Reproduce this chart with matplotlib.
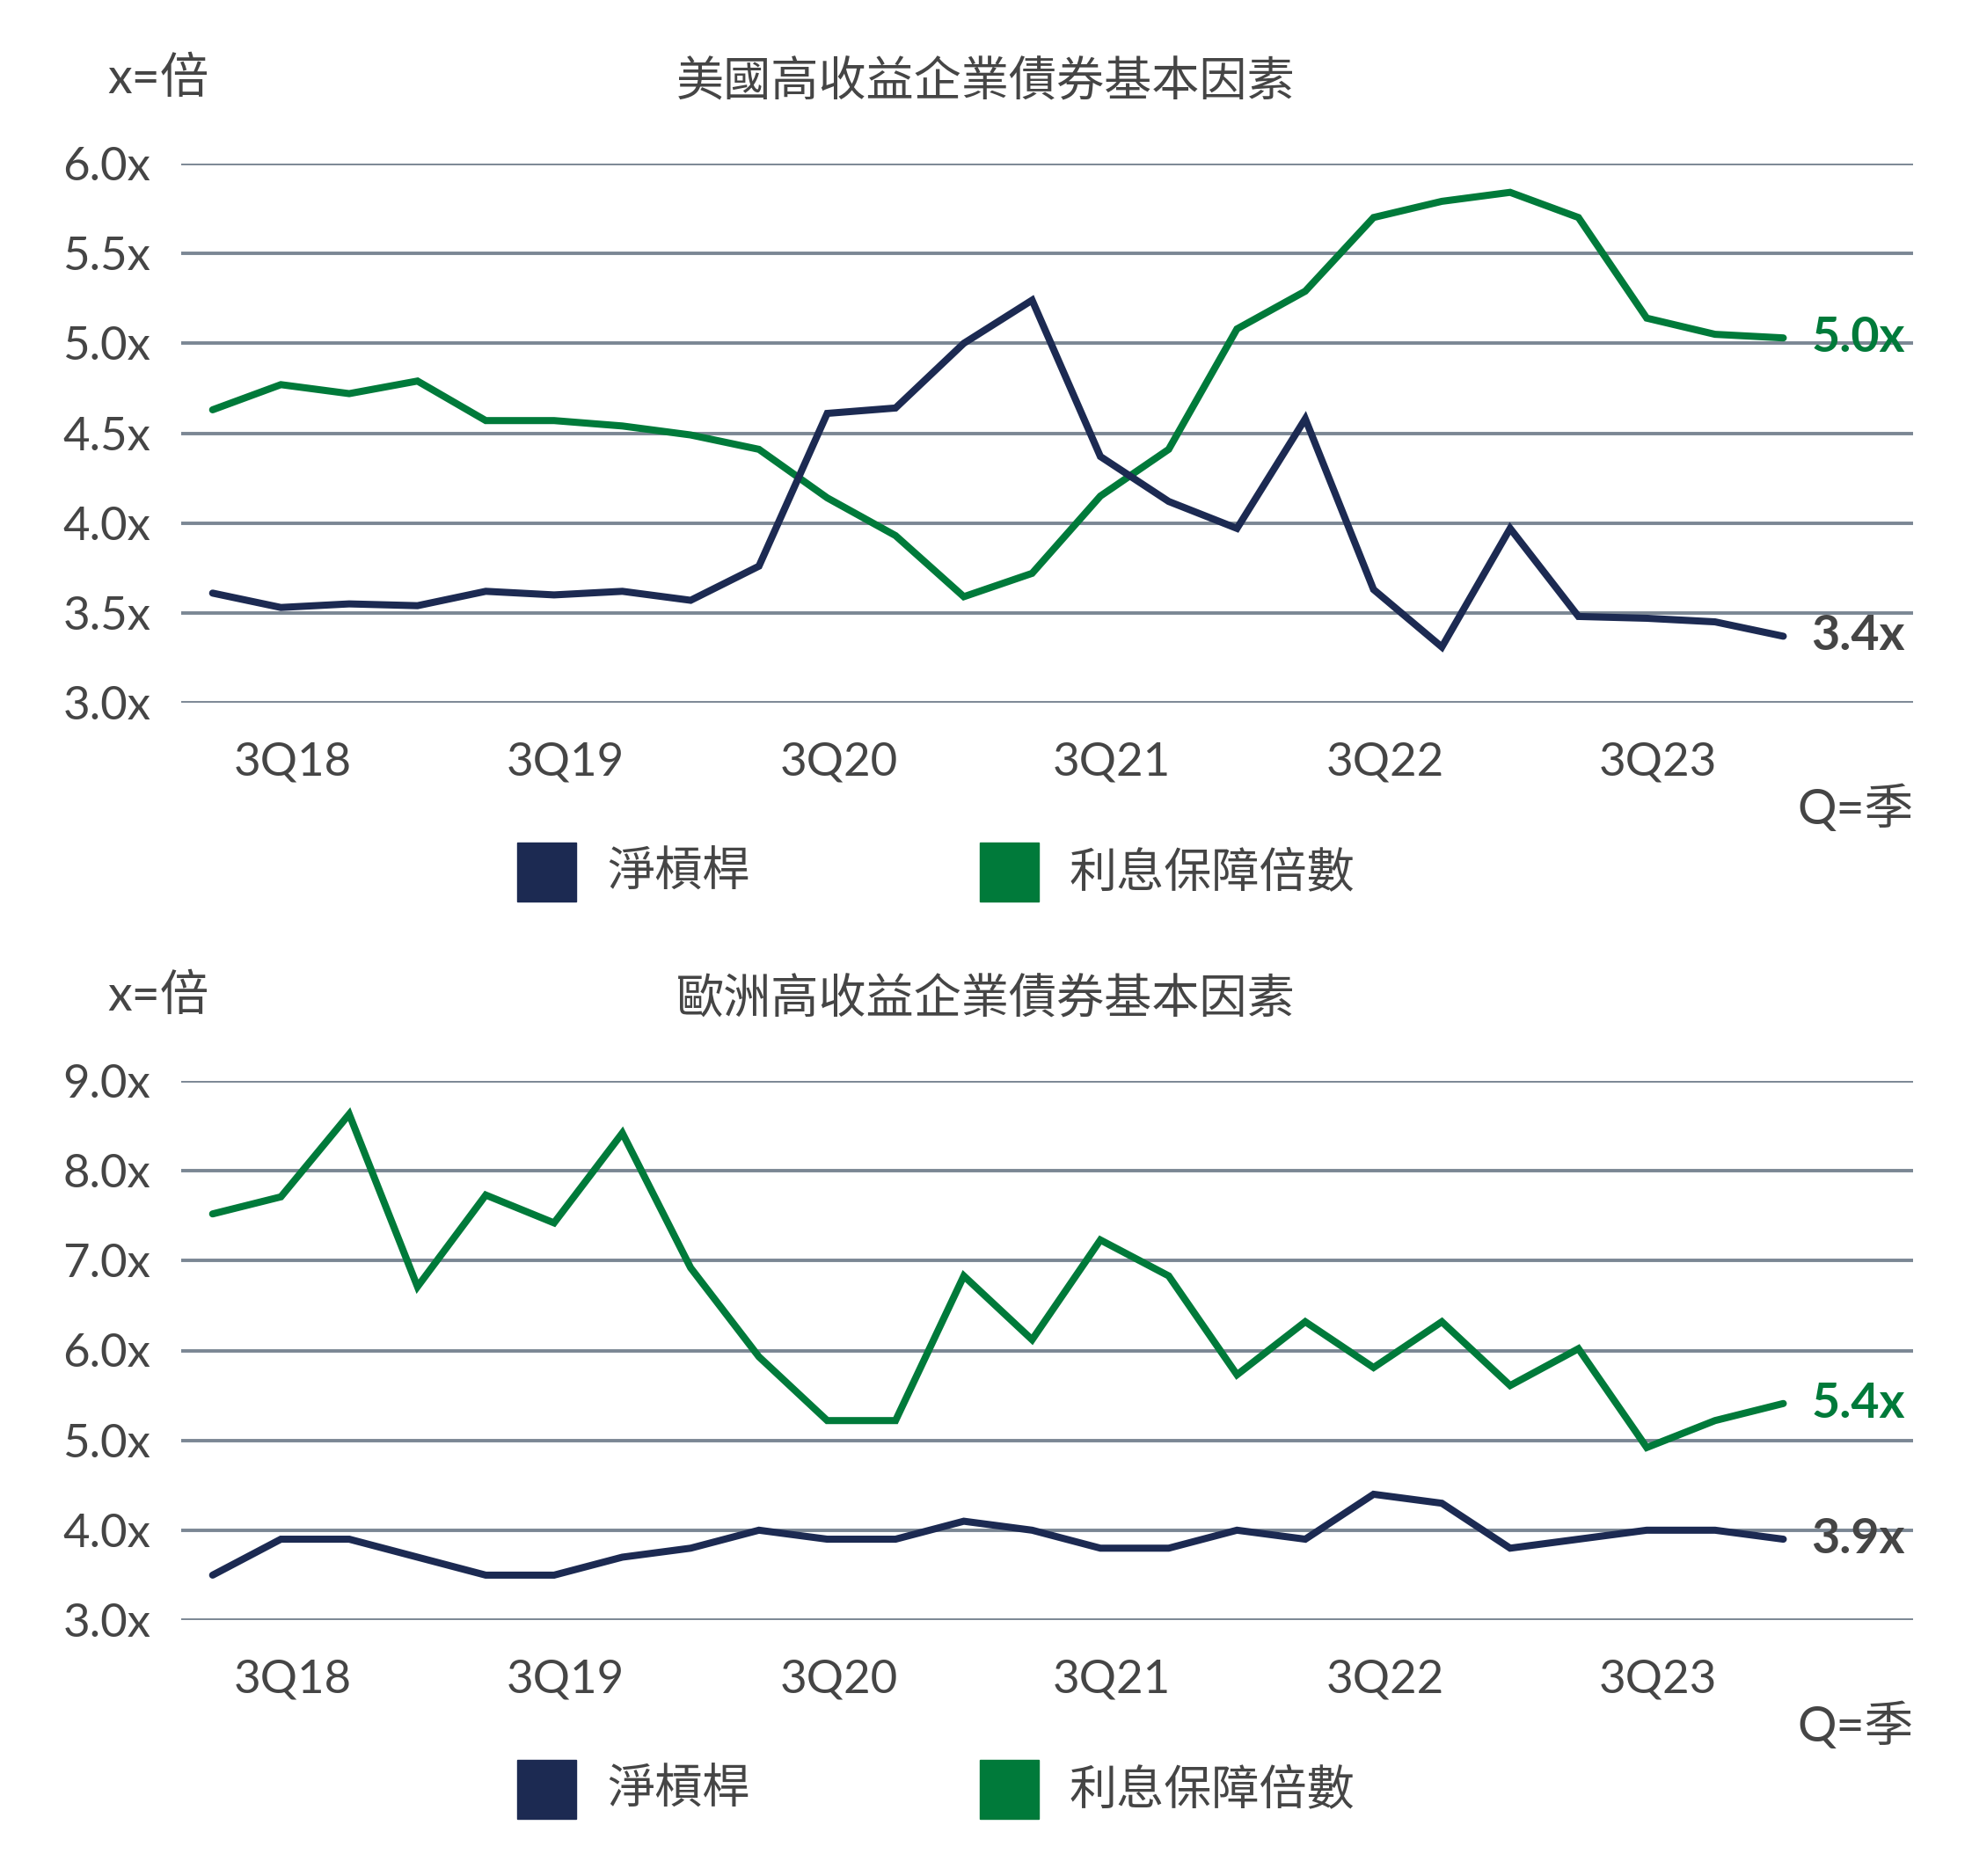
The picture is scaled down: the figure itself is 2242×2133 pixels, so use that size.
import matplotlib
matplotlib.use("Agg")
import matplotlib.pyplot as plt
import matplotlib.transforms as mtransforms

plt.rcParams['font.family'] = ['Lato', 'Noto Sans CJK TC', 'DejaVu Sans']

quarters = ['2Q18', '3Q18', '4Q18', '1Q19', '2Q19', '3Q19', '4Q19', '1Q20',
            '2Q20', '3Q20', '4Q20', '1Q21', '2Q21', '3Q21', '4Q21', '1Q22',
            '2Q22', '3Q22', '4Q22', '1Q23', '2Q23', '3Q23', '4Q23', '1Q24']
tick_labels = ['3Q18', '3Q19', '3Q20', '3Q21', '3Q22', '3Q23']

us_leverage = [3.61, 3.53, 3.55, 3.54, 3.62, 3.60, 3.62, 3.57, 3.76, 4.61, 4.64, 5.00,
               5.24, 4.37, 4.12, 3.97, 4.58, 3.63, 3.31, 3.97, 3.48, 3.47, 3.45, 3.37]
us_coverage = [4.63, 4.77, 4.72, 4.79, 4.57, 4.57, 4.54, 4.49, 4.41, 4.14, 3.93, 3.59,
               3.72, 4.15, 4.41, 5.08, 5.29, 5.70, 5.79, 5.84, 5.70, 5.14, 5.05, 5.03]
eu_leverage = [3.5, 3.9, 3.9, 3.7, 3.5, 3.5, 3.7, 3.8, 4.0, 3.9, 3.9, 4.1,
               4.0, 3.8, 3.8, 4.0, 3.9, 4.4, 4.3, 3.8, 3.9, 4.0, 4.0, 3.9]
eu_coverage = [7.52, 7.71, 8.63, 6.71, 7.73, 7.42, 8.42, 6.92, 5.93, 5.22, 5.22, 6.83,
               6.12, 7.23, 6.83, 5.73, 6.32, 5.81, 6.32, 5.61, 6.02, 4.92, 5.22, 5.41]

us_ticks = [3.0, 3.5, 4.0, 4.5, 5.0, 5.5, 6.0]
eu_ticks = [3.0, 4.0, 5.0, 6.0, 7.0, 8.0, 9.0]

titles = ['美國高收益企業債券基本因素', '歐洲高收益企業債券基本因素']
legend_labels = ['淨槓桿', '利息保障倍數']
end_labels_us = ['3.4x', '5.0x']
end_labels_eu = ['3.9x', '5.4x']

NAVY = '#1c2a52'
GREEN = '#007a3a'
GRID = '#7b8794'
TEXT = '#454545'

W, H = 2242, 2133
fig = plt.figure(figsize=(W / 100, H / 100), dpi=100)


def px(x, y):
    return x / W, 1 - y / H


def make_panel(top_px, bottom_px, off, lev, cov, ticks, title, endlabels):
    left, right = 206, 2175
    ax = fig.add_axes([left / W, 1 - bottom_px / H, (right - left) / W, (bottom_px - top_px) / H])
    x = list(range(len(quarters)))
    ax.set_ylim(ticks[0], ticks[-1])
    ax.set_xlim(-0.46, 24.9)
    ax.set_yticks(ticks)
    ax.set_yticklabels([f'{t:.1f}x' for t in ticks])
    ax.grid(axis='y', color=GRID, linewidth=2.8, zorder=0)
    ax.set_axisbelow(True)
    for s in ax.spines.values():
        s.set_visible(False)
    tick_pos = [quarters.index(t) for t in tick_labels]
    ax.set_xticks(tick_pos)
    ax.set_xticklabels(tick_labels)
    ax.tick_params(axis='both', length=0, labelsize=38, labelcolor=TEXT)
    ax.tick_params(axis='y', pad=25)
    ax.tick_params(axis='x', pad=32)
    shift = mtransforms.ScaledTranslation(0.13, 0, fig.dpi_scale_trans)
    for lab in ax.get_xticklabels():
        lab.set_transform(lab.get_transform() + shift)

    ax.plot(x, cov, color=GREEN, linewidth=5.8, solid_capstyle='round', solid_joinstyle='miter', zorder=3)
    ax.plot(x, lev, color=NAVY, linewidth=5.8, solid_capstyle='round', solid_joinstyle='miter', zorder=3)

    ax.annotate(endlabels[0], (x[-1], lev[-1]), xytext=(23, 0), textcoords='offset points',
                ha='left', va='center', fontsize=40, fontweight='bold', color=TEXT)
    ax.annotate(endlabels[1], (x[-1], cov[-1]), xytext=(23, 0), textcoords='offset points',
                ha='left', va='center', fontsize=40, fontweight='bold', color=GREEN)

    fig.text(*px(1121, 93 + off), title, ha='center', va='center', fontsize=39, color=TEXT)
    fig.text(*px(122, 90 + off), 'x=倍', ha='left', va='center', fontsize=40, color=TEXT)
    fig.text(*px(2175, 920 + off), 'Q=季', ha='right', va='center', fontsize=40, color=TEXT)

    # legend
    for (sx, tx, col, lab) in [(588, 690, NAVY, legend_labels[0]), (1114, 1216, GREEN, legend_labels[1])]:
        fig.patches.append(plt.Rectangle(px(sx, 1025 + off), 67 / W, 67 / H,
                                         transform=fig.transFigure, color=col, figure=fig))
        fig.text(*px(tx, 992 + off), lab, ha='left', va='center', fontsize=39, color=TEXT)
    return ax


make_panel(186, 799, 0, us_leverage, us_coverage, us_ticks, titles[0], end_labels_us)
make_panel(1229, 1842, 1043, eu_leverage, eu_coverage, eu_ticks, titles[1], end_labels_eu)

fig.savefig('out.png', dpi=100, facecolor='white')
